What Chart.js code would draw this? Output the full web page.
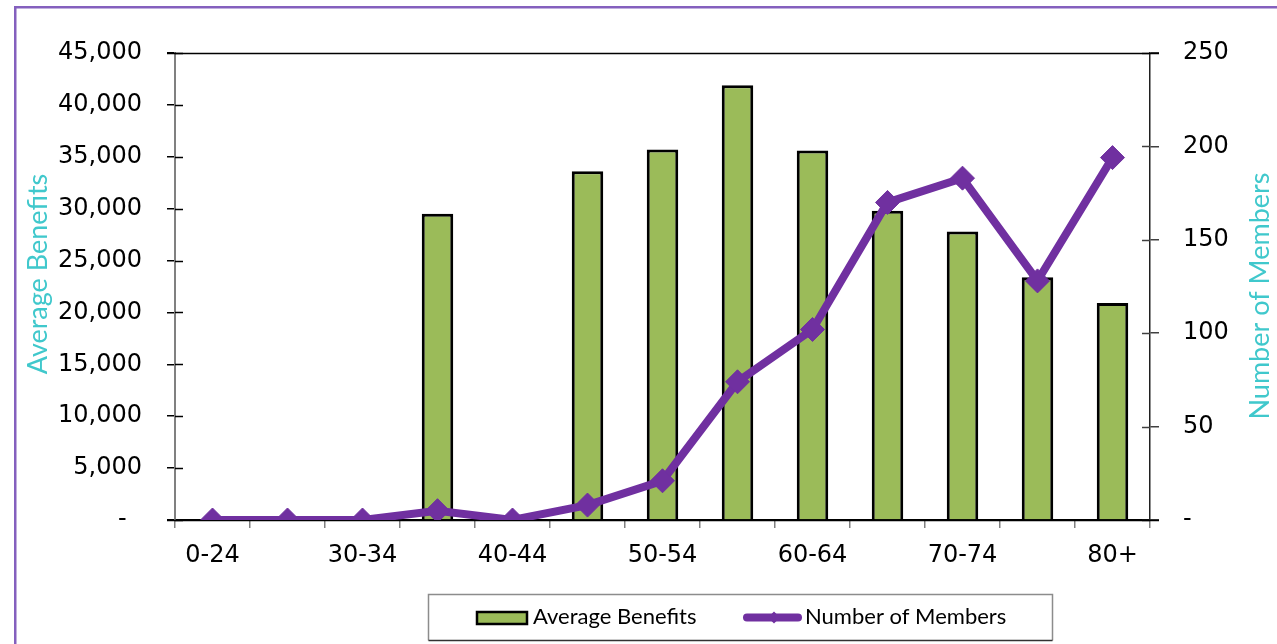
<!DOCTYPE html>
<html>
<head>
<meta charset="utf-8">
<script src="https://cdn.jsdelivr.net/npm/chart.js@4.4.1/dist/chart.umd.min.js"></script>
<style>
  html, body { margin: 0; padding: 0; background: #ffffff; }
  #wrap { position: relative; width: 1277px; height: 644px; }
</style>
</head>
<body>
<div id="wrap"><canvas id="c"></canvas></div>
<script>
// ---- data ----
const categories = ['0-24','25-29','30-34','35-39','40-44','45-49','50-54','55-59','60-64','65-69','70-74','75-79','80+'];
const averageBenefits = [null, null, null, 29500, null, 33600, 35700, 41900, 35600, 29800, 27800, 23400, 20900];
const numberOfMembers = [0, 0, 0, 5, 0, 8, 21, 74, 102, 170, 183, 128, 194];
const leftTicks = { min: 0, max: 45000, step: 5000 };
const rightTicks = { min: 0, max: 250, step: 50 };
const leftTitle = 'Average Benefits';
const rightTitle = 'Number of Members';

// ---- styles ----
const BAR_COLOR = '#9BBB59';
const LINE_COLOR = '#7030A0';
const TITLE_COLOR = '#40C8CC';
const FRAME_COLOR = '#8460BE';
const TICK_FONT = { family: "'DejaVu Sans', sans-serif", size: 24 };

Chart.defaults.color = '#000';
Chart.defaults.font.family = "'DejaVu Sans', sans-serif";

const decorPlugin = {
  id: 'decor',
  beforeDraw(chart) {
    const ctx = chart.ctx;
    ctx.save();
    ctx.fillStyle = '#ffffff';
    ctx.fillRect(0, 0, chart.width, chart.height);
    ctx.fillStyle = FRAME_COLOR;
    ctx.fillRect(14, 6, 2.5, chart.height);
    ctx.fillRect(14, 6, chart.width, 2.5);
    ctx.restore();
  },
  beforeDatasetsDraw(chart) {
    const { ctx, chartArea: a, scales } = chart;
    const y = scales.y, y1 = scales.y1;
    ctx.save();
    const line = (x0, y0, x1, y1p) => { ctx.beginPath(); ctx.moveTo(x0, y0); ctx.lineTo(x1, y1p); ctx.stroke(); };
    ctx.lineWidth = 1.5;
    ctx.strokeStyle = '#000';
    y.ticks.forEach(t => { const p = Math.round(y.getPixelForValue(t.value)) + 0.5; line(a.left, p, a.left + 8, p); });
    ctx.strokeStyle = '#404040';
    y1.ticks.forEach(t => { const p = Math.round(y1.getPixelForValue(t.value)) + 0.5; line(a.right - 8, p, a.right, p); });
    ctx.strokeStyle = '#000';
    const top = Math.round(a.top) + 0.5;
    line(a.left - 8, top, a.right + 9, top);
    const z = Math.round(y.getPixelForValue(0)) + 0.5;
    line(a.left - 8, z, a.right + 9, z);
    ctx.restore();
  },
  afterDraw(chart) {
    const ctx = chart.ctx;
    const ds = chart.data.datasets;
    ctx.save();
    // axis titles
    ctx.fillStyle = TITLE_COLOR;
    ctx.font = "27px Lato, sans-serif";
    ctx.textAlign = 'center';
    ctx.textBaseline = 'alphabetic';
    ctx.save(); ctx.translate(47, 274); ctx.rotate(-Math.PI / 2); ctx.fillText(leftTitle, 0, 0); ctx.restore();
    ctx.save(); ctx.translate(1269, 296); ctx.rotate(-Math.PI / 2); ctx.fillText(rightTitle, 0, 0); ctx.restore();

    // legend
    ctx.lineWidth = 1.5;
    ctx.strokeStyle = '#8c8c8c';
    ctx.beginPath();
    ctx.moveTo(428.5, 640.5); ctx.lineTo(428.5, 594.5); ctx.lineTo(1052.5, 594.5); ctx.lineTo(1052.5, 640.5);
    ctx.stroke();
    ctx.strokeStyle = '#333';
    ctx.beginPath(); ctx.moveTo(428.5, 640.5); ctx.lineTo(1052.5, 640.5); ctx.stroke();

    const barDs = ds.find(d => d.type === 'bar');
    const lineDs = ds.find(d => d.type === 'line');
    ctx.fillStyle = barDs.backgroundColor;
    ctx.fillRect(477, 612, 50, 12);
    ctx.strokeStyle = '#000'; ctx.lineWidth = 2.5;
    ctx.strokeRect(477, 612, 50, 12);

    ctx.strokeStyle = lineDs.borderColor; ctx.lineWidth = 8; ctx.lineCap = 'round';
    ctx.beginPath(); ctx.moveTo(747, 617.5); ctx.lineTo(798, 617.5); ctx.stroke();
    ctx.fillStyle = lineDs.borderColor;
    ctx.beginPath(); ctx.moveTo(774, 611.5); ctx.lineTo(780, 617.5); ctx.lineTo(774, 623.5); ctx.lineTo(768, 617.5); ctx.closePath(); ctx.fill();

    ctx.fillStyle = '#000';
    ctx.font = "22px Lato, sans-serif";
    ctx.textAlign = 'left';
    ctx.fillText(barDs.label, 533, 624);
    ctx.fillText(lineDs.label, 805, 624);
    ctx.restore();
  }
};

new Chart(document.getElementById('c'), {
  type: 'bar',
  data: {
    labels: categories,
    datasets: [
      {
        type: 'line',
        label: 'Number of Members',
        data: numberOfMembers,
        yAxisID: 'y1',
        borderColor: LINE_COLOR,
        backgroundColor: LINE_COLOR,
        borderWidth: 8,
        tension: 0,
        pointStyle: 'rectRot',
        pointRadius: 12,
        pointBorderWidth: 1,
        pointBackgroundColor: LINE_COLOR,
        pointBorderColor: LINE_COLOR,
        order: 0
      },
      {
        type: 'bar',
        label: 'Average Benefits',
        data: averageBenefits,
        yAxisID: 'y',
        backgroundColor: BAR_COLOR,
        borderColor: '#000',
        borderWidth: 3,
        barPercentage: 0.42,
        categoryPercentage: 1.0,
        order: 1
      }
    ]
  },
  options: {
    responsive: true,
    maintainAspectRatio: false,
    animation: false,
    events: [],
    layout: { padding: { top: 53, left: 0, right: 0, bottom: 0 } },
    plugins: { legend: { display: false }, tooltip: { enabled: false }, title: { display: false } },
    scales: {
      x: {
        type: 'category',
        offset: true,
        grid: { display: true, drawOnChartArea: false, drawTicks: true, tickLength: 8, color: '#808080', lineWidth: 1.5, offset: true },
        border: { display: true, color: '#000', width: 1.5 },
        ticks: {
          autoSkip: false, maxRotation: 0, minRotation: 0, padding: 13, font: TICK_FONT, color: '#000',
          callback: function (val, i) { return i % 2 === 0 ? this.getLabelForValue(val) : ''; }
        },
        afterFit: s => { s.height = 124; }
      },
      y: {
        type: 'linear',
        position: 'left',
        min: leftTicks.min, max: leftTicks.max,
        grid: { display: true, drawOnChartArea: false, drawTicks: true, tickLength: 8, color: '#000', lineWidth: 1.5 },
        border: { display: true, color: '#808080', width: 2 },
        ticks: {
          stepSize: leftTicks.step, padding: 25, font: TICK_FONT, color: '#000',
          callback: v => v === 0 ? '-  ' : Number(v).toLocaleString('en-US')
        },
        afterFit: s => { s.width = 175; }
      },
      y1: {
        type: 'linear',
        position: 'right',
        min: rightTicks.min, max: rightTicks.max,
        grid: { display: true, drawOnChartArea: false, drawTicks: true, tickLength: 9, color: '#404040', lineWidth: 1.5 },
        border: { display: true, color: '#202020', width: 1.5 },
        ticks: {
          stepSize: rightTicks.step, padding: 24, font: TICK_FONT, color: '#000',
          callback: v => v === 0 ? '-' : String(v)
        },
        afterFit: s => { s.width = 127; }
      }
    }
  },
  plugins: [decorPlugin]
});
</script>
</body>
</html>
